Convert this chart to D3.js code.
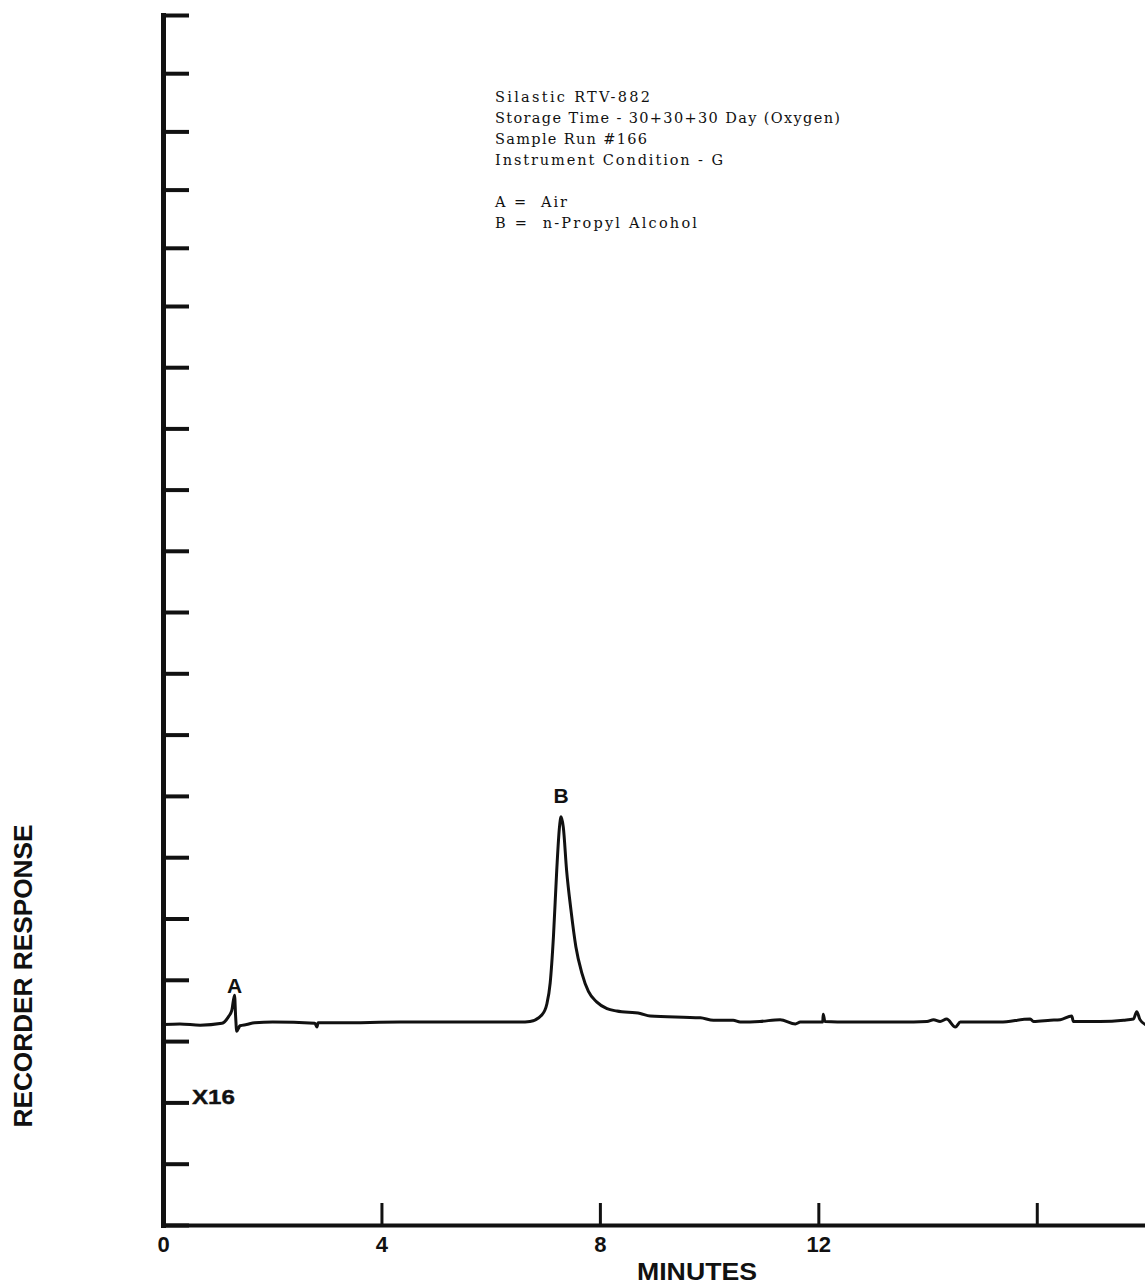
<!DOCTYPE html>
<html>
<head>
<meta charset="utf-8">
<script src="https://cdn.jsdelivr.net/npm/d3@7"></script>
<style>
  html, body { margin: 0; padding: 0; background: #ffffff; }
  svg { display: block; }
  .note { font-family: "DejaVu Serif", "Liberation Serif", serif; font-size: 14.5px; fill: #111; white-space: pre; }
  .lbl { font-family: "Liberation Sans", Arial, sans-serif; font-weight: bold; fill: #111; }
</style>
</head>
<body>
<script>
// Chromatogram trace: retention time (minutes) and recorder response (chart divisions)
const timeMin = [0, 0.31, 0.68, 1.08, 1.20, 1.26, 1.31, 1.33, 1.35, 1.41, 1.53, 1.68, 2.01, 2.78, 2.82, 2.84,
  3.24, 4.34, 5.81, 6.54, 6.72, 6.94, 7.03, 7.09, 7.15, 7.21, 7.26, 7.29, 7.33, 7.39, 7.47, 7.56, 7.67, 7.79,
  7.94, 8.13, 8.31, 8.74, 8.92, 9.84, 10.08, 10.44, 10.57, 10.93, 11.30, 11.58, 11.67, 12.08, 12.09, 12.12,
  12.58, 13.50, 13.99, 14.11, 14.23, 14.35, 14.51, 14.60, 15.33, 15.88, 15.94, 16.25, 16.43, 16.64, 16.67,
  17.16, 17.59, 17.77, 17.83, 17.89, 17.99];
const response = [3.27, 3.28, 3.26, 3.29, 3.40, 3.50, 3.75, 3.40, 3.16, 3.25, 3.27, 3.30, 3.31, 3.29, 3.23, 3.30,
  3.30, 3.31, 3.31, 3.31, 3.32, 3.43, 3.61, 3.95, 4.71, 5.79, 6.49, 6.66, 6.49, 5.79, 5.14, 4.54, 4.11, 3.81,
  3.64, 3.53, 3.49, 3.45, 3.41, 3.38, 3.34, 3.34, 3.31, 3.32, 3.35, 3.28, 3.31, 3.31, 3.44, 3.32,
  3.31, 3.31, 3.32, 3.35, 3.32, 3.36, 3.23, 3.31, 3.31, 3.36, 3.32, 3.34, 3.35, 3.41, 3.32,
  3.32, 3.34, 3.36, 3.48, 3.35, 3.27];

// Identified peaks
const peakLabels = ["A", "B"];
const peakTimes = [1.31, 7.29];
const peakHeights = [3.75, 6.66];

// Axis ticks
const xTicks = [0, 4, 8, 12, 16];
const xTickLabels = ["0", "4", "8", "12", ""];
const yTicks = d3.range(0, 21);
const attenuationLabel = "X16";
const attenuationTick = 2;

// Run description block
const noteLines = [
  "Silastic RTV-882",
  "Storage Time - 30+30+30 Day (Oxygen)",
  "Sample Run #166",
  "Instrument Condition - G",
  "",
  "A =  Air",
  "B =  n-Propyl Alcohol"
];
const xTitle = "MINUTES";
const yTitle = "RECORDER RESPONSE";

const W = 1145, H = 1286;
const svg = d3.select("body").append("svg").attr("width", W).attr("height", H);
svg.append("rect").attr("width", W).attr("height", H).attr("fill", "#ffffff");

const x = d3.scaleLinear().domain([0, 18]).range([163, 1146]);
// chart paper divisions are slightly tighter towards the top of the strip
const y = d3.scaleLinear().domain([0, 10, 15, 20]).range([1225, 612, 306, 15]);

// Y axis: ticks pointing into the plot, no numeric labels
const yAxis = svg.append("g")
  .attr("transform", `translate(${x(0)},0)`)
  .call(d3.axisRight(y).tickValues(yTicks).tickSize(26).tickSizeOuter(0).tickFormat(""));
yAxis.select(".domain").attr("stroke", "#111").attr("stroke-width", 5).attr("stroke-linecap", "square");
yAxis.selectAll(".tick line").attr("stroke", "#111").attr("stroke-width", 4);

// X axis: ticks pointing up, labels below
const xAxis = svg.append("g")
  .attr("transform", `translate(0,${y(0)})`)
  .call(d3.axisBottom(x).tickValues(xTicks).tickSize(-22).tickSizeOuter(0).tickPadding(11)
    .tickFormat((d, i) => xTickLabels[i]));
xAxis.select(".domain").attr("stroke", "#111").attr("stroke-width", 4).attr("stroke-linecap", "square");
xAxis.selectAll(".tick line").attr("stroke", "#111").attr("stroke-width", 3);
xAxis.selectAll(".tick text")
  .attr("class", "lbl")
  .attr("font-size", 22)
  .attr("font-family", "Liberation Sans, Arial, sans-serif")
  .attr("font-weight", "bold")
  .attr("fill", "#111");

// Attenuation marker beside its tick
svg.append("text").attr("class", "lbl")
  .attr("x", x(0) + 29).attr("y", y(attenuationTick) + 2)
  .attr("font-size", 21).attr("font-weight", "normal")
  .attr("stroke", "#111").attr("stroke-width", 0.4)
  .attr("textLength", 43).attr("lengthAdjust", "spacingAndGlyphs")
  .text(attenuationLabel);

// Trace
const pts = timeMin.map((t, i) => [t, response[i]]);
const line = d3.line().x(d => x(d[0])).y(d => y(d[1])).curve(d3.curveMonotoneX);
svg.append("path").datum(pts)
  .attr("d", line)
  .attr("fill", "none")
  .attr("stroke", "#111")
  .attr("stroke-width", 3)
  .attr("stroke-linejoin", "round")
  .attr("stroke-linecap", "round");

// Peak letters
const labelGap = [2, 14];
svg.selectAll(".peak").data(peakLabels).enter().append("text")
  .attr("class", "lbl peak")
  .attr("x", (d, i) => x(peakTimes[i]))
  .attr("y", (d, i) => y(peakHeights[i]) - labelGap[i])
  .attr("text-anchor", "middle")
  .attr("font-size", 21)
  .text(d => d);

// Description block
svg.selectAll(".note").data(noteLines).enter().append("text")
  .attr("class", "note")
  .attr("x", 495)
  .attr("y", (d, i) => 102 + 21 * i)
  .attr("textLength", d => ({
    "Silastic RTV-882": 155,
    "Storage Time - 30+30+30 Day (Oxygen)": 345,
    "Sample Run #166": 152,
    "Instrument Condition - G": 228,
    "A =  Air": 72,
    "B =  n-Propyl Alcohol": 202
  })[d] || null)
  .attr("lengthAdjust", "spacing")
  .text(d => d);

// Axis titles
svg.append("text").attr("class", "lbl")
  .attr("x", 697).attr("y", 1280)
  .attr("text-anchor", "middle")
  .attr("font-size", 23)
  .attr("textLength", 120).attr("lengthAdjust", "spacingAndGlyphs")
  .text(xTitle);

svg.append("text").attr("class", "lbl")
  .attr("transform", "translate(32,976) rotate(-90)")
  .attr("text-anchor", "middle")
  .attr("font-size", 25)
  .attr("textLength", 303).attr("lengthAdjust", "spacingAndGlyphs")
  .text(yTitle);
</script>
</body>
</html>
